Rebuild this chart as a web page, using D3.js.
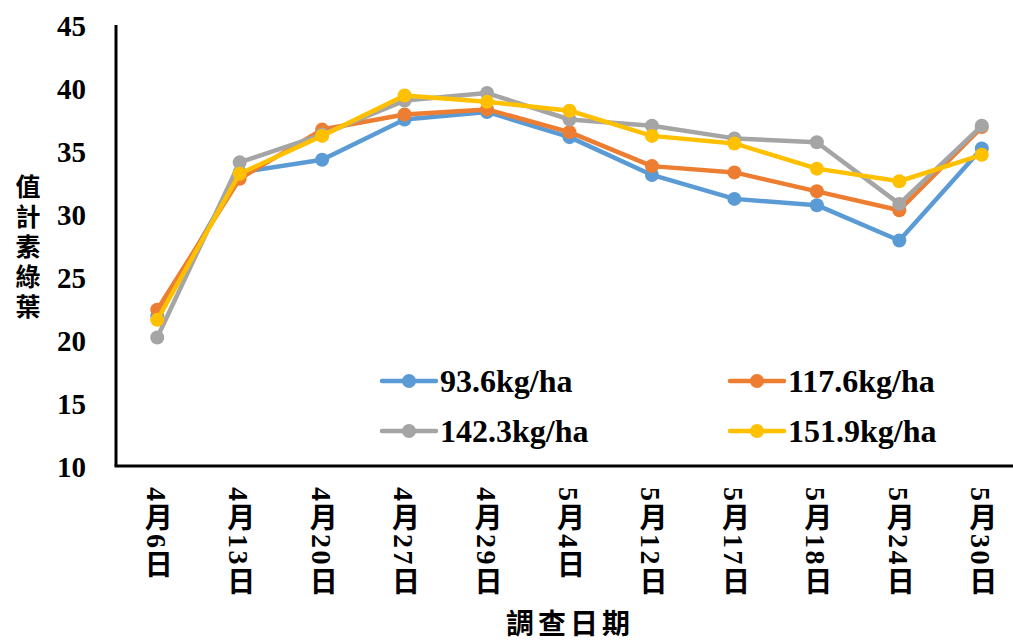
<!DOCTYPE html>
<html>
<head>
<meta charset="utf-8">
<script src="https://cdn.jsdelivr.net/npm/d3@7"></script>
<style>
  html, body { margin: 0; padding: 0; background: #fff; }
  svg { display: block; }
</style>
</head>
<body>
<svg id="chart" width="1013" height="641"></svg>
<script>
// Survey dates
const dates = ["4月6日", "4月13日", "4月20日", "4月27日", "4月29日", "5月4日",
               "5月12日", "5月17日", "5月18日", "5月24日", "5月30日"];

// Chlorophyll meter readings per nitrogen rate
const n93_6  = [21.9, 33.3, 34.3, 37.5, 38.1, 36.1, 33.1, 31.2, 30.7, 27.9, 35.2];
const n117_6 = [22.4, 32.8, 36.7, 37.9, 38.3, 36.5, 33.8, 33.3, 31.8, 30.3, 36.9];
const n142_3 = [20.2, 34.1, 36.3, 39.0, 39.6, 37.5, 37.0, 36.0, 35.7, 30.8, 37.0];
const n151_9 = [21.6, 33.2, 36.2, 39.4, 38.9, 38.2, 36.2, 35.6, 33.6, 32.6, 34.7];

const seriesNames = ["93.6kg/ha", "117.6kg/ha", "142.3kg/ha", "151.9kg/ha"];
const seriesValues = [n93_6, n117_6, n142_3, n151_9];
const seriesColors = ["#5B9BD5", "#ED7D31", "#A5A5A5", "#FFC000"];

const yTicks = [10, 15, 20, 25, 30, 35, 40, 45];
const yTitle = "葉綠素計值";
const xTitle = "調查日期";

const svg = d3.select("#chart");
const W = 1013, H = 641;
const plotLeft = 116, plotTop = 25, plotBottom = 466, plotRight = 1023;

const x = d3.scalePoint().domain(dates).range([plotLeft, plotRight]).padding(0.5);
const y = d3.scaleLinear().domain([10, 45]).range([plotBottom, plotTop]);

const numFont = "'Liberation Serif', 'Times New Roman', serif";
const cjkFont = "'Liberation Serif', 'Noto Sans CJK TC', serif";

// Y axis
const yAxis = svg.append("g")
  .attr("transform", `translate(${plotLeft},0)`)
  .call(d3.axisLeft(y).tickValues(yTicks).tickSize(0).tickPadding(30).tickFormat(d3.format("d")));
yAxis.select(".domain").attr("stroke", "#000").attr("stroke-width", 3)
  .attr("d", `M0,${plotTop}V${plotBottom}`);
yAxis.selectAll("text")
  .attr("font-family", numFont).attr("font-weight", "bold")
  .attr("font-size", 29).attr("fill", "#000").attr("dy", "0.35em");

// X axis line
svg.append("line")
  .attr("x1", plotLeft - 1.5).attr("x2", W).attr("y1", plotBottom).attr("y2", plotBottom)
  .attr("stroke", "#000").attr("stroke-width", 3);

// X tick labels, vertical text
svg.append("g").selectAll("text")
  .data(dates).join("text")
  .attr("x", d => x(d) - 1)
  .attr("y", 487)
  .attr("writing-mode", "vertical-rl")
  .attr("font-family", cjkFont).attr("font-weight", "bold")
  .attr("font-size", 28).attr("letter-spacing", 2.5).attr("fill", "#000")
  .text(d => d);

// X axis title
svg.append("text")
  .attr("x", 570).attr("y", 634)
  .attr("text-anchor", "middle")
  .attr("font-family", "'Noto Sans CJK TC', sans-serif").attr("font-weight", "bold")
  .attr("font-size", 28).attr("letter-spacing", 4).attr("fill", "#000")
  .text(xTitle);

// Y axis title: runs bottom to top, each glyph turned back upright
svg.append("text")
  .attr("transform", "translate(15.5,316) rotate(-90)")
  .attr("rotate", 90)
  .attr("font-family", "'Noto Sans CJK TC', sans-serif").attr("font-weight", "bold")
  .attr("font-size", 25).attr("letter-spacing", 5).attr("fill", "#000")
  .text(yTitle);

// Series lines and markers
const line = d3.line().x((d, i) => x(dates[i])).y(d => y(d));
seriesValues.forEach((vals, s) => {
  const g = svg.append("g");
  g.append("path")
    .datum(vals)
    .attr("d", line)
    .attr("fill", "none")
    .attr("stroke", seriesColors[s])
    .attr("stroke-width", 4.5)
    .attr("stroke-linejoin", "round");
  g.selectAll("circle").data(vals).join("circle")
    .attr("cx", (d, i) => x(dates[i]))
    .attr("cy", d => y(d))
    .attr("r", 7)
    .attr("fill", seriesColors[s]);
});

// Legend, 2 x 2
const legendPos = [[382, 381], [730, 381], [382, 431], [730, 431]];
seriesNames.forEach((name, s) => {
  const [lx, ly] = legendPos[s];
  const g = svg.append("g").attr("transform", `translate(${lx},${ly})`);
  g.append("line").attr("x1", 0).attr("x2", 54).attr("y1", 0).attr("y2", 0)
    .attr("stroke", seriesColors[s]).attr("stroke-width", 4.5).attr("stroke-linecap", "round");
  g.append("circle").attr("cx", 27).attr("cy", 0).attr("r", 7).attr("fill", seriesColors[s]);
  g.append("text").attr("x", 58).attr("y", 0).attr("dy", "0.35em")
    .attr("font-family", numFont).attr("font-weight", "bold")
    .attr("font-size", 32).attr("fill", "#000")
    .text(name);
});
</script>
</body>
</html>
